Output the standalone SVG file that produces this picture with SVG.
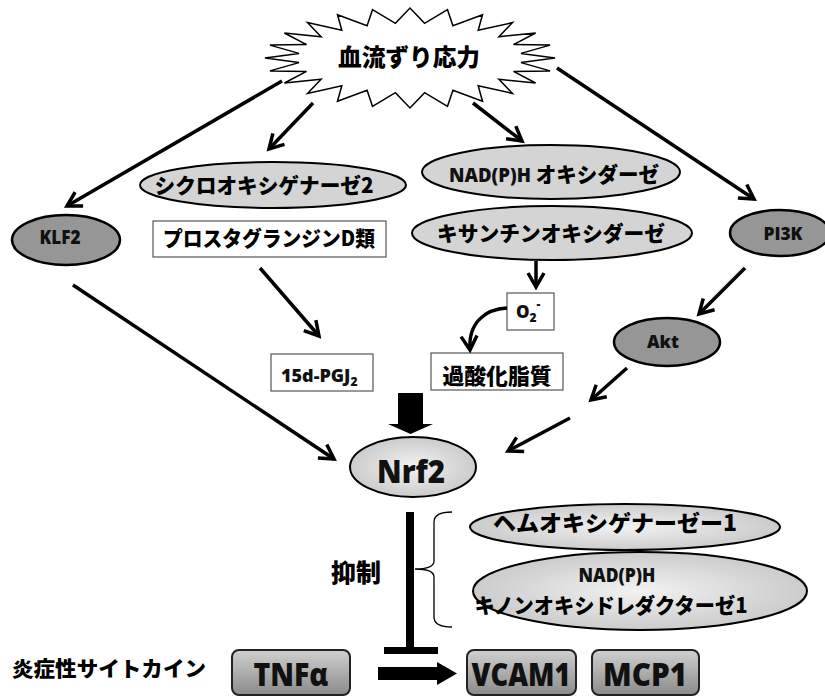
<svg xmlns="http://www.w3.org/2000/svg" width="825" height="696" viewBox="0 0 825 696">
<defs>
<style>
.jp{font-family:"Noto Sans CJK JP","Noto Sans",sans-serif;font-weight:900;fill:#000}
.lat{font-family:"Open Sans","Noto Sans","Noto Sans CJK JP",sans-serif;font-weight:800;fill:#111}
.lg{fill:#d4d4d4;stroke:#000;stroke-width:2}
.dg{fill:#969696;stroke:#000;stroke-width:2.5}
.bx{fill:#fff;stroke:#555;stroke-width:1.2}
.gb{fill:url(#gBox);stroke:#222;stroke-width:2}
.gr{fill:url(#gEll);stroke:#000;stroke-width:2}
.arr{stroke:#000;stroke-width:3.5;fill:none;marker-end:url(#ah)}
</style>
<linearGradient id="gBox" x1="0" y1="0" x2="0" y2="1">
<stop offset="0" stop-color="#d0d0d0"/>
<stop offset="1" stop-color="#8a8a8a"/>
</linearGradient>
<radialGradient id="gEll" cx="0.5" cy="0.5" r="0.6">
<stop offset="0" stop-color="#f2f2f2"/>
<stop offset="1" stop-color="#c4c4c4"/>
</radialGradient>
<marker id="ah" viewBox="0 0 18 18" refX="15" refY="9" markerWidth="18" markerHeight="18" markerUnits="userSpaceOnUse" orient="auto" overflow="visible">
<path d="M1,1 L15,9 L1,17" fill="none" stroke="#000" stroke-width="3.5"/>
</marker>
</defs>
<rect width="825" height="696" fill="#fff"/>

<g id="stress">
<polygon fill="#fff" stroke="#000" stroke-width="1.5" points="555,58 521,62.6 550.1,70.9 513.5,71.4 535.6,83 498.9,79.3 512.5,93.4 478.2,85.8 482.5,101.3 452.9,90.3 447.5,106.3 424.6,92.7 410,108 395.4,92.7 372.5,106.3 367.1,90.3 337.5,101.3 341.8,85.8 307.5,93.4 321.1,79.3 284.4,83 306.5,71.4 269.9,70.9 299,62.6 265,58 299,53.4 269.9,45.1 306.5,44.6 284.4,33 321.1,36.7 307.5,22.6 341.8,30.2 337.5,14.7 367.1,25.7 372.5,9.7 395.4,23.3 410,8 424.6,23.3 447.5,9.7 452.9,25.7 482.5,14.7 478.2,30.2 512.5,22.6 498.9,36.7 535.6,33 513.5,44.6 550.1,45.1 521,53.4"/>
<text class="jp" x="409" y="66" font-size="24" text-anchor="middle" textLength="142" lengthAdjust="spacingAndGlyphs">血流ずり応力</text>
</g>

<g id="cox2">
<ellipse class="lg" cx="273" cy="185" rx="133" ry="23"/>
<text class="jp" x="264" y="193" font-size="21" text-anchor="middle" textLength="219" lengthAdjust="spacingAndGlyphs">シクロオキシゲナーゼ2</text>
</g>

<g id="klf2">
<ellipse class="dg" cx="66" cy="240" rx="54" ry="25"/>
<text class="lat" x="60" y="244" font-size="20" text-anchor="middle" textLength="41" lengthAdjust="spacingAndGlyphs">KLF2</text>
</g>

<g id="pgd">
<rect class="bx" x="153" y="221" width="233" height="36"/>
<text class="jp" x="269" y="246" font-size="21" text-anchor="middle" textLength="212" lengthAdjust="spacingAndGlyphs">プロスタグランジンD類</text>
</g>

<g id="nadph">
<ellipse class="lg" cx="551" cy="172" rx="129" ry="27"/>
<text x="554" y="182" font-size="21" text-anchor="middle" textLength="210" lengthAdjust="spacingAndGlyphs"><tspan class="lat" font-size="19">NAD(P)H </tspan><tspan class="jp">オキシダーゼ</tspan></text>
</g>

<g id="xo">
<ellipse class="lg" cx="552" cy="233" rx="140" ry="27"/>
<text class="jp" x="551" y="241" font-size="21" text-anchor="middle" textLength="228" lengthAdjust="spacingAndGlyphs">キサンチンオキシダーゼ</text>
</g>

<g id="pi3k">
<ellipse class="dg" cx="780" cy="233" rx="50" ry="23"/>
<text class="lat" x="783" y="240" font-size="18" text-anchor="middle" textLength="39" lengthAdjust="spacingAndGlyphs">PI3K</text>
</g>

<g id="o2">
<rect class="bx" x="507" y="293" width="47" height="37"/>
<text class="lat" x="516" y="318" font-size="17">O<tspan font-size="12" dy="4">2</tspan><tspan font-size="12" dy="-14">-</tspan></text>
</g>

<g id="lipid">
<rect class="bx" x="431" y="353" width="132" height="37"/>
<text class="jp" x="497" y="384" font-size="22" text-anchor="middle" textLength="109" lengthAdjust="spacingAndGlyphs">過酸化脂質</text>
</g>

<g id="pgj2">
<rect class="bx" x="271" y="354" width="102" height="37"/>
<text class="lat" x="281" y="382" font-size="18">15d-PGJ<tspan font-size="12" dy="4">2</tspan></text>
</g>

<g id="akt">
<ellipse class="dg" cx="667" cy="342" rx="53" ry="24"/>
<text class="lat" x="663" y="348" font-size="18" text-anchor="middle" textLength="32" lengthAdjust="spacingAndGlyphs">Akt</text>
</g>

<g id="nrf2">
<ellipse class="gr" cx="413" cy="467" rx="63" ry="30"/>
<text class="lat" x="411" y="483" font-size="31" text-anchor="middle" textLength="68" lengthAdjust="spacingAndGlyphs">Nrf2</text>
</g>

<g id="ho1">
<ellipse class="gr" cx="625" cy="527" rx="155" ry="23"/>
<text class="jp" x="615" y="531" font-size="22" text-anchor="middle" textLength="244" lengthAdjust="spacingAndGlyphs">ヘムオキシゲナーゼー1</text>
</g>

<g id="nqo1">
<ellipse class="gr" cx="640" cy="591" rx="167" ry="39"/>
<text class="lat" x="617" y="582" font-size="20" text-anchor="middle" textLength="77" lengthAdjust="spacingAndGlyphs">NAD(P)H</text>
<text class="jp" x="611" y="613" font-size="21" text-anchor="middle" textLength="273" lengthAdjust="spacingAndGlyphs">キノンオキシドレダクターゼ1</text>
</g>

<g id="inhibit-label">
<text class="jp" x="356" y="582" font-size="25" text-anchor="middle">抑制</text>
</g>

<g id="cytokine-label">
<text class="jp" x="109" y="676" font-size="21" text-anchor="middle" textLength="194" lengthAdjust="spacingAndGlyphs">炎症性サイトカイン</text>
</g>

<g id="tnfa">
<rect class="gb" x="232" y="650" width="118" height="45" rx="7"/>
<text class="lat" x="291" y="686" font-size="31" text-anchor="middle" textLength="75" lengthAdjust="spacingAndGlyphs">TNFα</text>
</g>

<g id="vcam1">
<rect class="gb" x="467" y="650" width="109" height="45" rx="7"/>
<text class="lat" x="521" y="686" font-size="31" text-anchor="middle" textLength="99" lengthAdjust="spacingAndGlyphs">VCAM1</text>
</g>

<g id="mcp1">
<rect class="gb" x="592" y="650" width="107" height="45" rx="7"/>
<text class="lat" x="645" y="686" font-size="31" text-anchor="middle" textLength="84" lengthAdjust="spacingAndGlyphs">MCP1</text>
</g>

<g id="connectors">
<line class="arr" x1="282" y1="81" x2="67" y2="206"/>
<line class="arr" x1="313" y1="103" x2="269" y2="149"/>
<line class="arr" x1="473" y1="103" x2="522" y2="141"/>
<line class="arr" x1="557" y1="68" x2="754" y2="199"/>
<line class="arr" x1="536" y1="261" x2="536" y2="287"/>
<path class="arr" d="M507,308 C486,309 468,322 470,350"/>
<line class="arr" x1="260" y1="268" x2="319" y2="336"/>
<line class="arr" x1="73" y1="285" x2="334" y2="459"/>
<line class="arr" x1="745" y1="268" x2="699" y2="314"/>
<line class="arr" x1="627" y1="368" x2="591" y2="400"/>
<line class="arr" x1="570" y1="418" x2="508" y2="451"/>
<polygon fill="#000" points="398,393 423,393 423,424 433,424 410.5,434 388,424 398,424"/>
<line x1="410" y1="512" x2="410" y2="648" stroke="#000" stroke-width="8"/>
<rect x="384" y="647" width="54" height="7" fill="#000"/>
<path d="M452,512 Q434,512 434,522 L434,561 Q434,569 415,569 Q434,569 434,577 L434,617 Q434,627 452,627" fill="none" stroke="#000" stroke-width="1.3"/>
<polygon fill="#000" points="378,667 437,667 437,662 457,673.5 437,685 437,680 378,680"/>
</g>
</svg>
